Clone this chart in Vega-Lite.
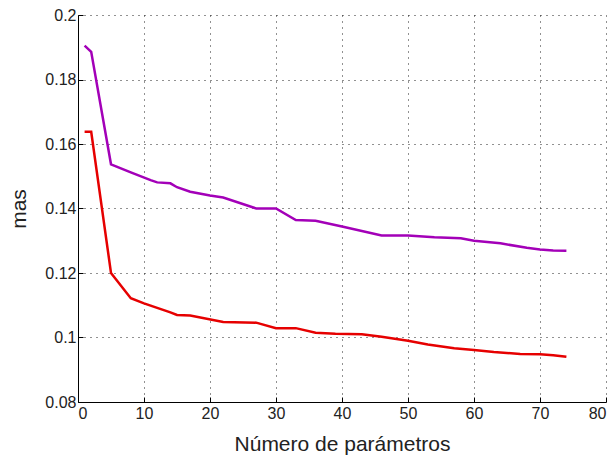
{
  "$schema": "https://vega.github.io/schema/vega-lite/v6.json",
  "width": 528,
  "height": 387,
  "autosize": {"type": "none"},
  "padding": {"left": 78, "top": 15, "right": 9, "bottom": 54},
  "background": "white",
  "config": {
    "view": {"stroke": null},
    "font": "Liberation Sans",
    "axis": {
      "domainColor": "#000000",
      "domainWidth": 1,
      "tickColor": "#000000",
      "tickSize": -5,
      "gridColor": "#222222",
      "gridDash": [1, 5],
      "gridWidth": 1,
      "gridOpacity": 1,
      "labelFont": "Liberation Sans",
      "labelFontSize": 16,
      "labelColor": "#222222",
      "titleFont": "Liberation Sans",
      "titleFontWeight": "normal",
      "titleColor": "#222222"
    }
  },
  "data": {
    "values": [
      {"n": 1, "mas": 0.1905, "serie": "A"},
      {"n": 2, "mas": 0.1886, "serie": "A"},
      {"n": 5, "mas": 0.1537, "serie": "A"},
      {"n": 8, "mas": 0.1512, "serie": "A"},
      {"n": 11, "mas": 0.1488, "serie": "A"},
      {"n": 12, "mas": 0.1481, "serie": "A"},
      {"n": 14, "mas": 0.1478, "serie": "A"},
      {"n": 15, "mas": 0.1466, "serie": "A"},
      {"n": 17, "mas": 0.1452, "serie": "A"},
      {"n": 20, "mas": 0.1440, "serie": "A"},
      {"n": 22, "mas": 0.1434, "serie": "A"},
      {"n": 27, "mas": 0.1400, "serie": "A"},
      {"n": 30, "mas": 0.1400, "serie": "A"},
      {"n": 33, "mas": 0.1364, "serie": "A"},
      {"n": 36, "mas": 0.1362, "serie": "A"},
      {"n": 40, "mas": 0.1344, "serie": "A"},
      {"n": 46, "mas": 0.1316, "serie": "A"},
      {"n": 50, "mas": 0.1316, "serie": "A"},
      {"n": 54, "mas": 0.1311, "serie": "A"},
      {"n": 58, "mas": 0.1308, "serie": "A"},
      {"n": 60, "mas": 0.1300, "serie": "A"},
      {"n": 64, "mas": 0.1292, "serie": "A"},
      {"n": 68, "mas": 0.1278, "serie": "A"},
      {"n": 70, "mas": 0.1273, "serie": "A"},
      {"n": 72, "mas": 0.1270, "serie": "A"},
      {"n": 74, "mas": 0.1269, "serie": "A"},
      {"n": 1, "mas": 0.1638, "serie": "B"},
      {"n": 2, "mas": 0.1638, "serie": "B"},
      {"n": 5, "mas": 0.1200, "serie": "B"},
      {"n": 8, "mas": 0.1122, "serie": "B"},
      {"n": 10, "mas": 0.1106, "serie": "B"},
      {"n": 14, "mas": 0.1078, "serie": "B"},
      {"n": 15, "mas": 0.1070, "serie": "B"},
      {"n": 17, "mas": 0.1068, "serie": "B"},
      {"n": 22, "mas": 0.1048, "serie": "B"},
      {"n": 27, "mas": 0.1046, "serie": "B"},
      {"n": 30, "mas": 0.1029, "serie": "B"},
      {"n": 33, "mas": 0.1029, "serie": "B"},
      {"n": 36, "mas": 0.1015, "serie": "B"},
      {"n": 39, "mas": 0.1012, "serie": "B"},
      {"n": 43, "mas": 0.1010, "serie": "B"},
      {"n": 46, "mas": 0.1002, "serie": "B"},
      {"n": 50, "mas": 0.0990, "serie": "B"},
      {"n": 53, "mas": 0.0978, "serie": "B"},
      {"n": 57, "mas": 0.0967, "serie": "B"},
      {"n": 60, "mas": 0.0961, "serie": "B"},
      {"n": 63, "mas": 0.0955, "serie": "B"},
      {"n": 67, "mas": 0.0949, "serie": "B"},
      {"n": 70, "mas": 0.0948, "serie": "B"},
      {"n": 72, "mas": 0.0945, "serie": "B"},
      {"n": 74, "mas": 0.0940, "serie": "B"}
    ]
  },
  "mark": {"type": "line", "strokeWidth": 2.5, "strokeJoin": "miter"},
  "encoding": {
    "x": {
      "field": "n",
      "type": "quantitative",
      "scale": {"domain": [0, 80], "nice": false},
      "axis": {
        "values": [0, 10, 20, 30, 40, 50, 60, 70, 80],
        "title": "Número de parámetros",
        "titleFontSize": 21,
        "titlePadding": 12,
        "labelPadding": 8,
        "format": "d"
      }
    },
    "y": {
      "field": "mas",
      "type": "quantitative",
      "scale": {"domain": [0.08, 0.2], "nice": false, "zero": false},
      "axis": {
        "values": [0.08, 0.1, 0.12, 0.14, 0.16, 0.18, 0.2],
        "title": "mas",
        "titleFontSize": 21,
        "titlePadding": 15,
        "labelPadding": 7,
        "format": "~g"
      }
    },
    "color": {
      "field": "serie",
      "type": "nominal",
      "scale": {"domain": ["A", "B"], "range": ["#a300b8", "#e60000"]},
      "legend": null
    }
  }
}
